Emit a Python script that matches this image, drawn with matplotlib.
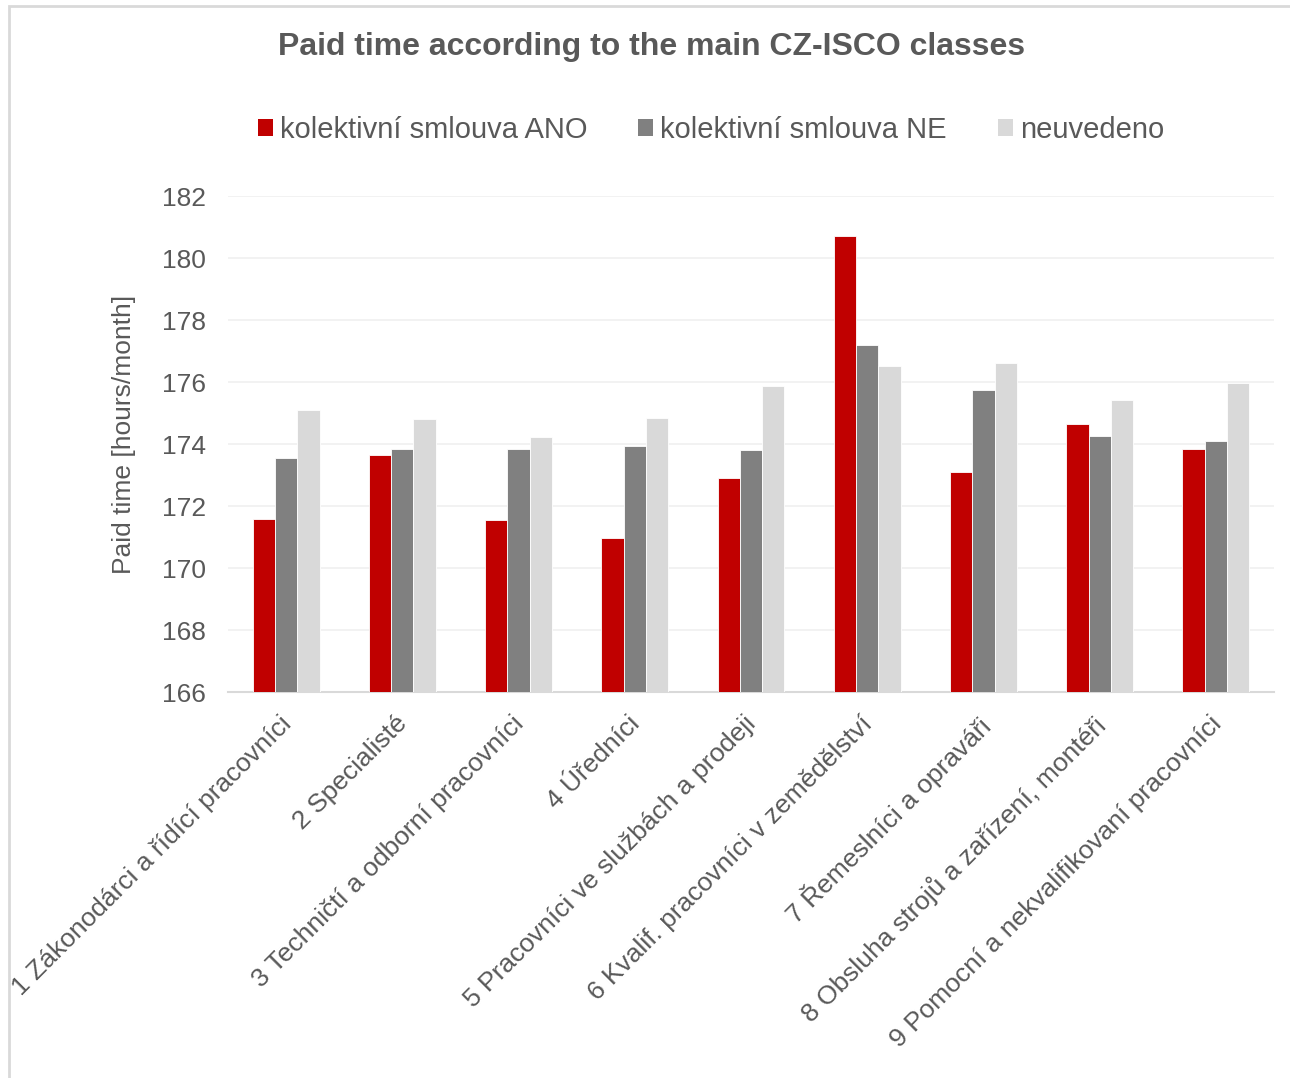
import matplotlib.pyplot as plt
import numpy as np
from matplotlib.patches import Rectangle
from matplotlib.transforms import ScaledTranslation

plt.rcParams["font.family"] = ["Liberation Sans", "DejaVu Sans"]

categories = [
    "1 Zákonodárci a řídící pracovníci",
    "2 Specialisté",
    "3 Techničtí a odborní pracovníci",
    "4 Úředníci",
    "5 Pracovníci ve službách a prodeji",
    "6 Kvalif. pracovníci v zemědělství",
    "7 Řemeslníci a opraváři",
    "8 Obsluha strojů a zařízení, montéři",
    "9 Pomocní a nekvalifikovaní pracovníci",
]
series_names = ["kolektivní smlouva ANO", "kolektivní smlouva NE", "neuvedeno"]
cs_yes = [171.57, 173.65, 171.54, 170.96, 172.90, 180.71, 173.11, 174.66, 173.84]
cs_no = [173.55, 173.83, 173.83, 173.93, 173.80, 177.18, 175.74, 174.25, 174.10]
not_stated = [175.09, 174.81, 174.24, 174.83, 175.86, 176.53, 176.60, 175.42, 175.97]
colors = ["#C00000", "#808080", "#D9D9D9"]
text_color = "#595959"

fig = plt.figure(figsize=(12.9, 10.78), dpi=100)
fig.patches.append(Rectangle((9 / 1290, -0.01), 1.0, 1 - 6 / 1078 + 0.01,
                             transform=fig.transFigure, fill=False,
                             edgecolor="#D9D9D9", linewidth=2))
ax = fig.add_axes([228 / 1290, 1 - 692 / 1078, (1274 - 228) / 1290, (692 - 196) / 1078])

x = np.arange(len(categories))
width = 0.192
bottom = 166
for i, (values, name, color) in enumerate(zip([cs_yes, cs_no, not_stated], series_names, colors)):
    heights = np.array(values) - bottom
    ax.bar(x + (i - 1) * width, heights, width, bottom=bottom, color=color,
           edgecolor="white", linewidth=0.6, label=name, zorder=3)

ax.set_xlim(-0.5, len(categories) - 0.5)
ax.set_ylim(166, 182)
ax.set_yticks(np.arange(166, 183, 2))
ax.grid(axis="y", color="#F0F0F0", linewidth=1.2, zorder=0)
for side in ["top", "right", "left"]:
    ax.spines[side].set_visible(False)
ax.spines["bottom"].set_color("#D9D9D9")
ax.spines["bottom"].set_linewidth(1.5)
ax.tick_params(axis="both", length=0, colors=text_color, labelsize=19)
ax.tick_params(axis="y", pad=16)
ax.tick_params(axis="x", pad=14)
ax.set_xticks(x)
ax.set_xticklabels(categories, rotation=45, ha="right", va="top",
                   rotation_mode="anchor", color=text_color, fontsize=19)
shift = ScaledTranslation(-7 / 100, 0, fig.dpi_scale_trans)
for label in ax.get_xticklabels():
    label.set_transform(label.get_transform() + shift)
ax.set_ylabel("Paid time [hours/month]", color=text_color, fontsize=19)
ax.yaxis.set_label_coords(-0.088, 0.52)

fig.text(652 / 1290, 1 - 47 / 1078, "Paid time according to the main CZ-ISCO classes",
         ha="center", va="center", fontsize=23, fontweight="bold", color=text_color)

handles, labels = ax.get_legend_handles_labels()
leg = fig.legend(handles, labels, loc="center", bbox_to_anchor=(711 / 1290, 1 - 130 / 1078),
                 ncol=3, frameon=False, fontsize=21, handlelength=0.5, handleheight=0.5,
                 handletextpad=0.25, columnspacing=1.75, labelcolor=text_color)
for h in leg.legend_handles:
    h.set_edgecolor("none")

fig.savefig("out.png", dpi=100)
plt.close(fig)
